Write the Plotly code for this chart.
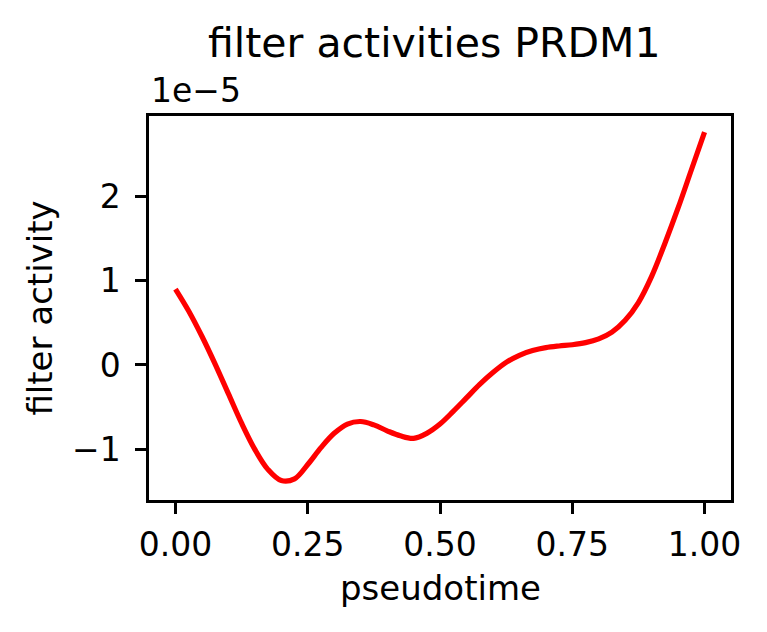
import plotly.graph_objects as go

# Data (activity in units of 1e-5)
pseudotime = [0.000, 0.025, 0.050, 0.075, 0.100, 0.125, 0.150, 0.175, 0.200, 0.225,
              0.250, 0.275, 0.300, 0.325, 0.350, 0.375, 0.400, 0.425, 0.450, 0.475,
              0.500, 0.525, 0.550, 0.575, 0.600, 0.625, 0.650, 0.675, 0.700, 0.725,
              0.750, 0.775, 0.800, 0.825, 0.850, 0.875, 0.900, 0.925, 0.950, 0.975,
              1.000]
activity_e5 = [0.90, 0.64, 0.34, 0.01, -0.34, -0.69, -1.00, -1.24, -1.37, -1.35,
               -1.18, -0.98, -0.81, -0.70, -0.67, -0.71, -0.78, -0.84, -0.87, -0.81,
               -0.70, -0.55, -0.39, -0.23, -0.09, 0.03, 0.115, 0.17, 0.205, 0.225,
               0.24, 0.265, 0.31, 0.39, 0.53, 0.74, 1.05, 1.44, 1.86, 2.31,
               2.76]
scale = 1e-5
activity = [v * scale for v in activity_e5]

x_tickvals = [0.0, 0.25, 0.5, 0.75, 1.0]
x_ticktext = ["0.00", "0.25", "0.50", "0.75", "1.00"]
y_tickvals_e5 = [-1, 0, 1, 2]
y_ticktext = ["\u22121", "0", "1", "2"]

FONT = "DejaVu Sans"
TICK = 33
LABEL = 34
TITLE = 41

fig = go.Figure()
fig.add_trace(go.Scatter(x=pseudotime, y=activity, mode="lines",
                         line=dict(color="#ff0000", width=5.2, shape="spline", smoothing=1.0),
                         hoverinfo="skip"))

axis_common = dict(showline=True, linecolor="black", linewidth=2.5, mirror=True,
                   showgrid=False, zeroline=False, ticks="outside", ticklen=11,
                   tickwidth=2.5, tickcolor="black",
                   tickfont=dict(family=FONT, size=TICK, color="black"))

fig.update_layout(
    width=767, height=632,
    margin=dict(l=149, r=36, t=116, b=132),
    paper_bgcolor="white", plot_bgcolor="white",
    showlegend=False,
    font=dict(family=FONT, color="black"),
    xaxis=dict(range=[-0.05, 1.05], tickvals=x_tickvals, ticktext=x_ticktext,
               ticklabelstandoff=3, **axis_common),
    yaxis=dict(range=[-1.60 * scale, 2.95 * scale],
               tickvals=[v * scale for v in y_tickvals_e5], ticktext=y_ticktext,
               ticklabelstandoff=8, **axis_common),
    annotations=[
        dict(text="filter activities PRDM1", xref="paper", yref="paper", x=0.49, y=1.19,
             xanchor="center", yanchor="middle", showarrow=False,
             font=dict(family=FONT, size=TITLE, color="black")),
        dict(text="1e\u22125", xref="paper", yref="paper", x=0.0, y=1.0,
             xanchor="left", yanchor="bottom", yshift=4, showarrow=False,
             font=dict(family=FONT, size=TICK, color="black")),
        dict(text="pseudotime", xref="paper", yref="paper", x=0.5, y=-0.229,
             xanchor="center", yanchor="middle", showarrow=False,
             font=dict(family=FONT, size=LABEL, color="black")),
        dict(text="filter activity", xref="paper", yref="paper", x=-0.188, y=0.5,
             xanchor="center", yanchor="middle", textangle=-90, showarrow=False,
             font=dict(family=FONT, size=LABEL, color="black")),
    ],
)

fig.write_html("out.html")
